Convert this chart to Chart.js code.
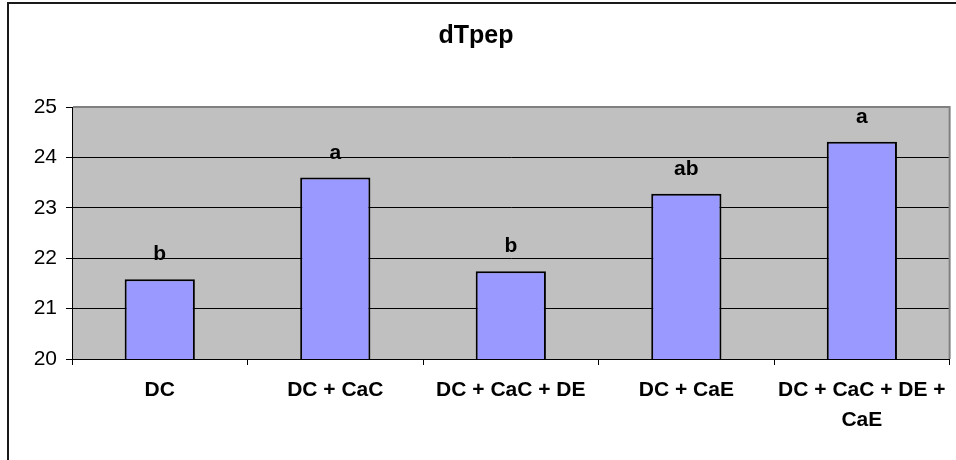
<!DOCTYPE html>
<html>
<head>
<meta charset="utf-8">
<title>dTpep</title>
<script src="https://cdn.jsdelivr.net/npm/chart.js@4/dist/chart.umd.min.js"></script>
<style>
  html, body { margin: 0; padding: 0; background: #fff; }
  canvas { display: block; }
</style>
</head>
<body>
<canvas id="chart" width="956" height="460"></canvas>
<script>
// Treatment groups (the last one wraps onto two lines)
const categories = ['DC', 'DC + CaC', 'DC + CaC + DE', 'DC + CaE', ['DC + CaC + DE +', 'CaE']];
// Mean dTpep per group
const values = [21.58, 23.60, 21.74, 23.28, 24.31];
// Significance letters shown above each bar
const letters = ['b', 'a', 'b', 'ab', 'a'];
// Value axis range
const yMin = 20;
const yMax = 25;
const yStep = 1;

const FONT = "'Liberation Sans', Arial, Helvetica, sans-serif";

// Grey plot background, grey top/right plot edges and the outer frame
const frame = {
  id: 'frame',
  beforeDraw(chart) {
    const { ctx, chartArea: a } = chart;
    ctx.save();
    ctx.fillStyle = '#C0C0C0';
    ctx.fillRect(a.left, a.top, a.right - a.left, a.bottom - a.top);
    ctx.restore();
  },
  afterDraw(chart) {
    const { ctx, chartArea: a, width, height } = chart;
    ctx.save();
    ctx.strokeStyle = '#808080';
    ctx.lineWidth = 2;
    ctx.beginPath();
    ctx.moveTo(a.left + 1, a.top);
    ctx.lineTo(a.right, a.top);
    ctx.lineTo(a.right, a.bottom);
    ctx.stroke();

    ctx.strokeStyle = '#1a1a1a';
    ctx.lineWidth = 2;
    ctx.beginPath();
    ctx.moveTo(8, height);
    ctx.lineTo(8, 3);
    ctx.lineTo(width, 3);
    ctx.stroke();
    ctx.restore();
  }
};

// Letter labels placed above each bar
const letterLabels = {
  id: 'letterLabels',
  afterDatasetsDraw(chart) {
    const { ctx } = chart;
    const meta = chart.getDatasetMeta(0);
    ctx.save();
    ctx.font = 'bold 21px ' + FONT;
    ctx.fillStyle = '#000';
    ctx.textAlign = 'center';
    ctx.textBaseline = 'alphabetic';
    meta.data.forEach((bar, i) => {
      ctx.fillText(letters[i], bar.x, bar.y - 19);
    });
    ctx.restore();
  }
};

new Chart(document.getElementById('chart'), {
  type: 'bar',
  data: {
    labels: categories,
    datasets: [{
      data: values,
      backgroundColor: '#9999FF',
      borderColor: '#000000',
      borderWidth: 2,
      barPercentage: 0.4,
      categoryPercentage: 1.0
    }]
  },
  options: {
    responsive: false,
    animation: false,
    layout: { padding: { left: 0, right: 4, top: 0, bottom: 0 } },
    plugins: {
      legend: { display: false },
      tooltip: { enabled: false },
      title: {
        display: true,
        text: 'dTpep',
        color: '#000',
        font: { family: FONT, size: 25, weight: 'bold', lineHeight: 1.2 },
        padding: { top: 21, bottom: 56 }
      }
    },
    scales: {
      x: {
        offset: true,
        grid: {
          offset: true,
          drawOnChartArea: false,
          drawTicks: true,
          tickLength: 6,
          color: '#000'
        },
        border: { display: true, color: '#000', width: 1 },
        ticks: {
          color: '#000',
          padding: 10,
          maxRotation: 0,
          autoSkip: false,
          font: { family: FONT, size: 21, weight: 'bold', lineHeight: 1.45 }
        },
        afterFit(scale) { scale.height = 101; }
      },
      y: {
        min: yMin,
        max: yMax,
        grid: {
          drawOnChartArea: true,
          drawTicks: true,
          tickLength: 6,
          color: '#000',
          lineWidth: 1
        },
        border: { display: true, color: '#000', width: 1 },
        ticks: {
          stepSize: yStep,
          color: '#000',
          padding: 9,
          font: { family: FONT, size: 21 }
        },
        afterFit(scale) { scale.width = 72; }
      }
    }
  },
  plugins: [frame, letterLabels]
});
</script>
</body>
</html>
